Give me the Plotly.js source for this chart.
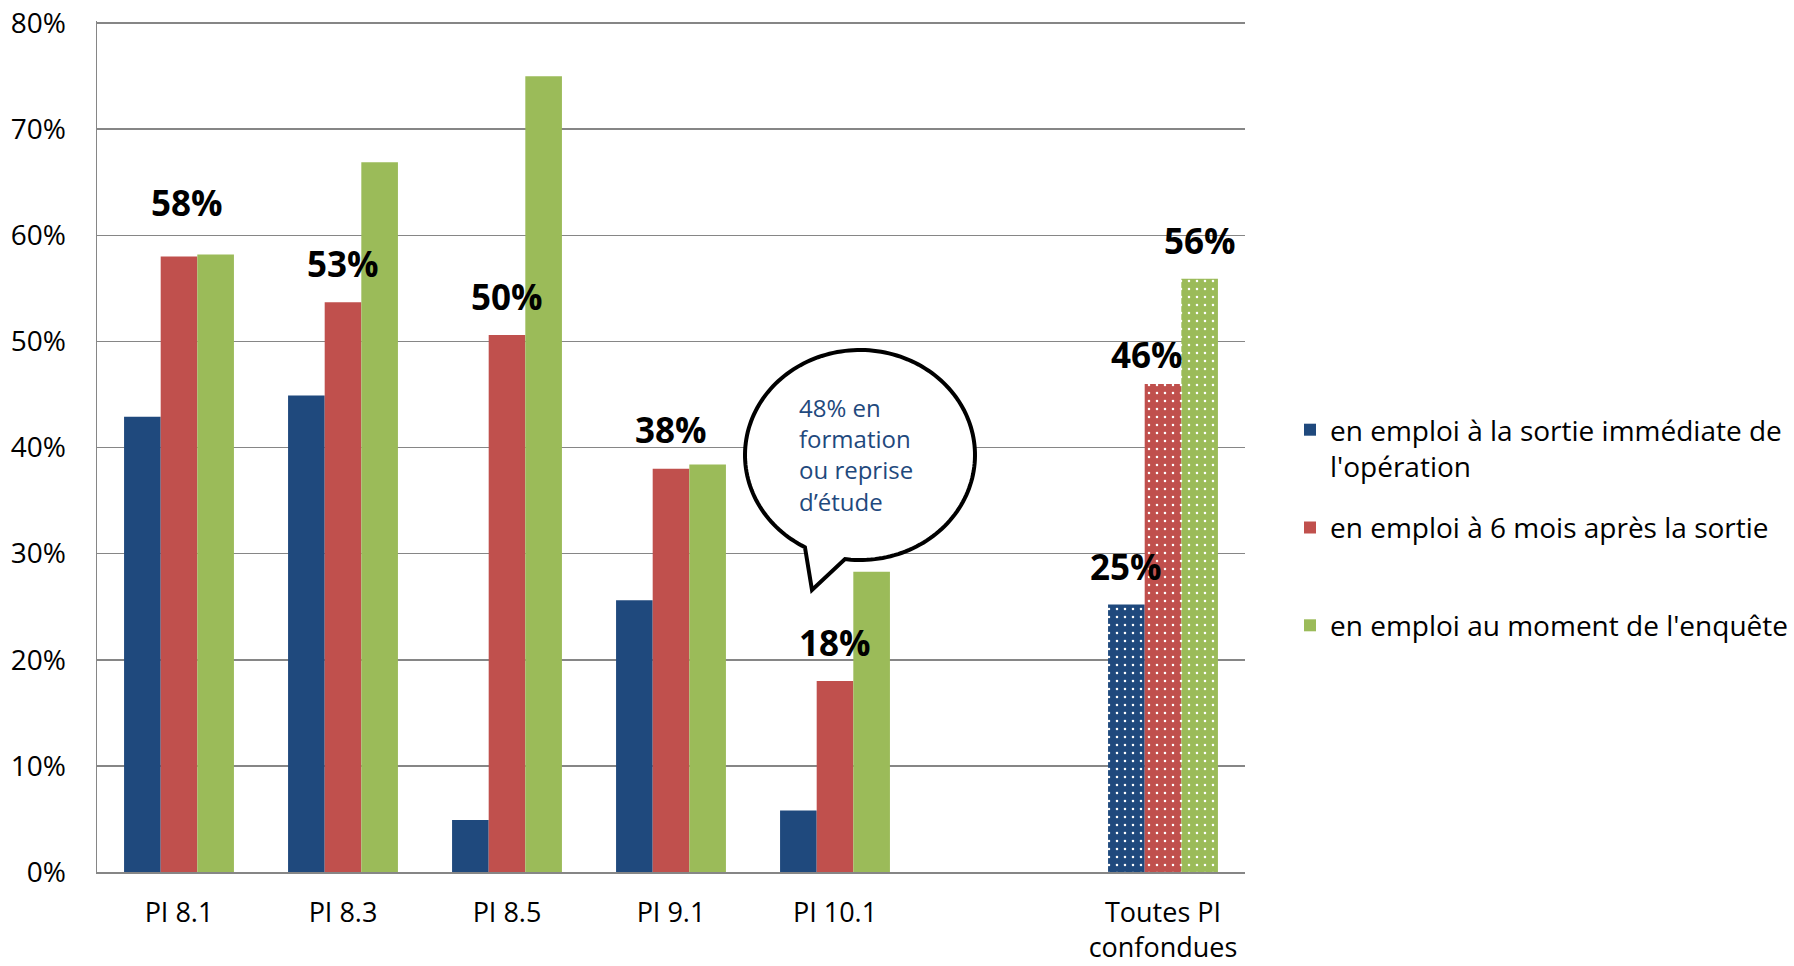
<!DOCTYPE html>
<html><head><meta charset="utf-8">
<script src="https://cdn.plot.ly/plotly-3.0.1.min.js"></script>
<style>html,body{margin:0;padding:0;background:#fff}</style>
</head><body><div id="chart" style="width:1794px;height:966px"></div>
<script>
// ---- data ----
const categories = ["PI 8.1", "PI 8.3", "PI 8.5", "PI 9.1", "PI 10.1", " ", "Toutes PI<br>confondues"];
const seriesNames = [
  "en emploi à la sortie immédiate de<br>l'opération",
  "en emploi à 6 mois après la sortie<br>&nbsp;",
  "en emploi au moment de l'enquête"
];
const sortieImmediate = [42.9, 44.9, 4.9, 25.6, 5.8, null, 25.2];
const sixMois        = [58.0, 53.7, 50.6, 38.0, 18.0, null, 46.0];
const enquete        = [58.2, 66.9, 75.0, 38.4, 28.3, null, 55.9];
const sixMoisLabels  = ["58%", "53%", "50%", "38%", "18%", null, null];
const totalLabels    = ["25%", "46%", "56%"];
const yMax = 80, yStep = 10;
const bubbleText = "48% en<br>formation<br>ou reprise<br>d’étude";

// ---- layout geometry ----
const W = 1794, H = 966, M = {l: 97, r: 549, t: 21, b: 94, autoexpand: false};
const pw = W - M.l - M.r, ph = H - M.t - M.b;
const px2x = px => (px - M.l) / pw;
const py2y = py => 1 - (py - M.t) / ph;
const colors = ["#1F497D", "#C0504D", "#9BBB59"];
const bargap = 0.33;
const bw = (1 - bargap) / 3;
const patternShapes = categories.map((c, i) => i === categories.length - 1 ? "." : "");

const allSeries = [sortieImmediate, sixMois, enquete];
const traces = allSeries.map((vals, k) => ({
  type: "bar", x: categories, y: vals, name: seriesNames[k],
  legendgroup: "g" + k,
  marker: {color: colors[k], line: {width: 0},
           pattern: {shape: patternShapes, fgcolor: "#ffffff", bgcolor: colors[k],
                     fillmode: "replace", size: 8, solidity: 0.08}},
  hoverinfo: "skip"
}));

// data labels
const annotations = [];
const labelFont = {family: "Open Sans, sans-serif", size: 35, color: "#000"};
sixMoisLabels.forEach((t, i) => {
  if (!t) return;
  annotations.push({xref: "x", yref: "y", x: i, y: sixMois[i], text: "<b>" + t + "</b>",
    showarrow: false, yanchor: "middle", yshift: i === 0 ? 54 : 39, xshift: i === 0 ? 8 : 0, font: labelFont});
});
const ti = categories.length - 1;
totalLabels.forEach((t, k) => {
  annotations.push({xref: "x", yref: "y", x: ti + (k - 1) * bw, y: allSeries[k][ti], text: "<b>" + t + "</b>",
    showarrow: false, yanchor: "middle", yshift: k === 1 ? 29 : 38, xshift: k === 1 ? -16 : 0, font: labelFont});
});
// bubble text
annotations.push({xref: "paper", yref: "paper", x: px2x(797), y: py2y(454), xanchor: "left", yanchor: "middle",
  align: "left", showarrow: false, text: bubbleText,
  font: {family: "Open Sans, sans-serif", size: 24, color: "#1F497D"}});

// speech bubble path
const cx = 860, cy = 455, rx = 115, ry = 105;
const a0 = 118.6, a1 = 97.5 + 360;
let path = "";
for (let a = a0; a <= a1 + 0.001; a += 2) {
  const r = a * Math.PI / 180;
  const X = px2x(cx + rx * Math.cos(r)), Y = py2y(cy + ry * Math.sin(r));
  path += (path ? " L" : "M") + X.toFixed(5) + "," + Y.toFixed(5);
}
{
  const r = a1 * Math.PI / 180;
  path += " L" + px2x(cx + rx * Math.cos(r)).toFixed(5) + "," + py2y(cy + ry * Math.sin(r)).toFixed(5);
}
path += " L" + px2x(812).toFixed(5) + "," + py2y(590).toFixed(5) + " Z";

const layout = {
  width: W, height: H, margin: M,
  paper_bgcolor: "#fff", plot_bgcolor: "#fff",
  font: {family: "Open Sans, sans-serif", size: 28, color: "#000"},
  barmode: "group", bargap: bargap, bargroupgap: 0,
  xaxis: {type: "category", categoryorder: "array", categoryarray: categories,
    range: [-0.5, categories.length - 0.5], showgrid: false, zeroline: false,
    showline: true, linecolor: "#868686", linewidth: 1.5,
    ticks: "outside", ticklen: 16, tickcolor: "rgba(0,0,0,0)", tickfont: {size: 27}},
  yaxis: {range: [0, yMax + 0.2], tickmode: "linear", tick0: 0, dtick: yStep, ticksuffix: "%",
    ticklabeloverflow: "allow",
    showgrid: true, gridcolor: "#868686", gridwidth: 1.5, zeroline: false,
    showline: true, linecolor: "#868686", linewidth: 1.5,
    ticks: "outside", ticklen: 24, tickcolor: "rgba(0,0,0,0)", tickfont: {size: 28}},
  legend: {x: px2x(1290), xanchor: "left", y: py2y(405), yanchor: "top",
    font: {size: 28, color: "#000"}, traceorder: "grouped", tracegroupgap: 22, valign: "top",
    bgcolor: "rgba(0,0,0,0)"},
  shapes: [{type: "path", xref: "paper", yref: "paper", path: path,
    fillcolor: "#ffffff", line: {color: "#000", width: 4}, layer: "above"}],
  annotations: annotations,
  showlegend: true
};
Plotly.newPlot("chart", traces, layout, {displayModeBar: false, staticPlot: true});
</script></body></html>
